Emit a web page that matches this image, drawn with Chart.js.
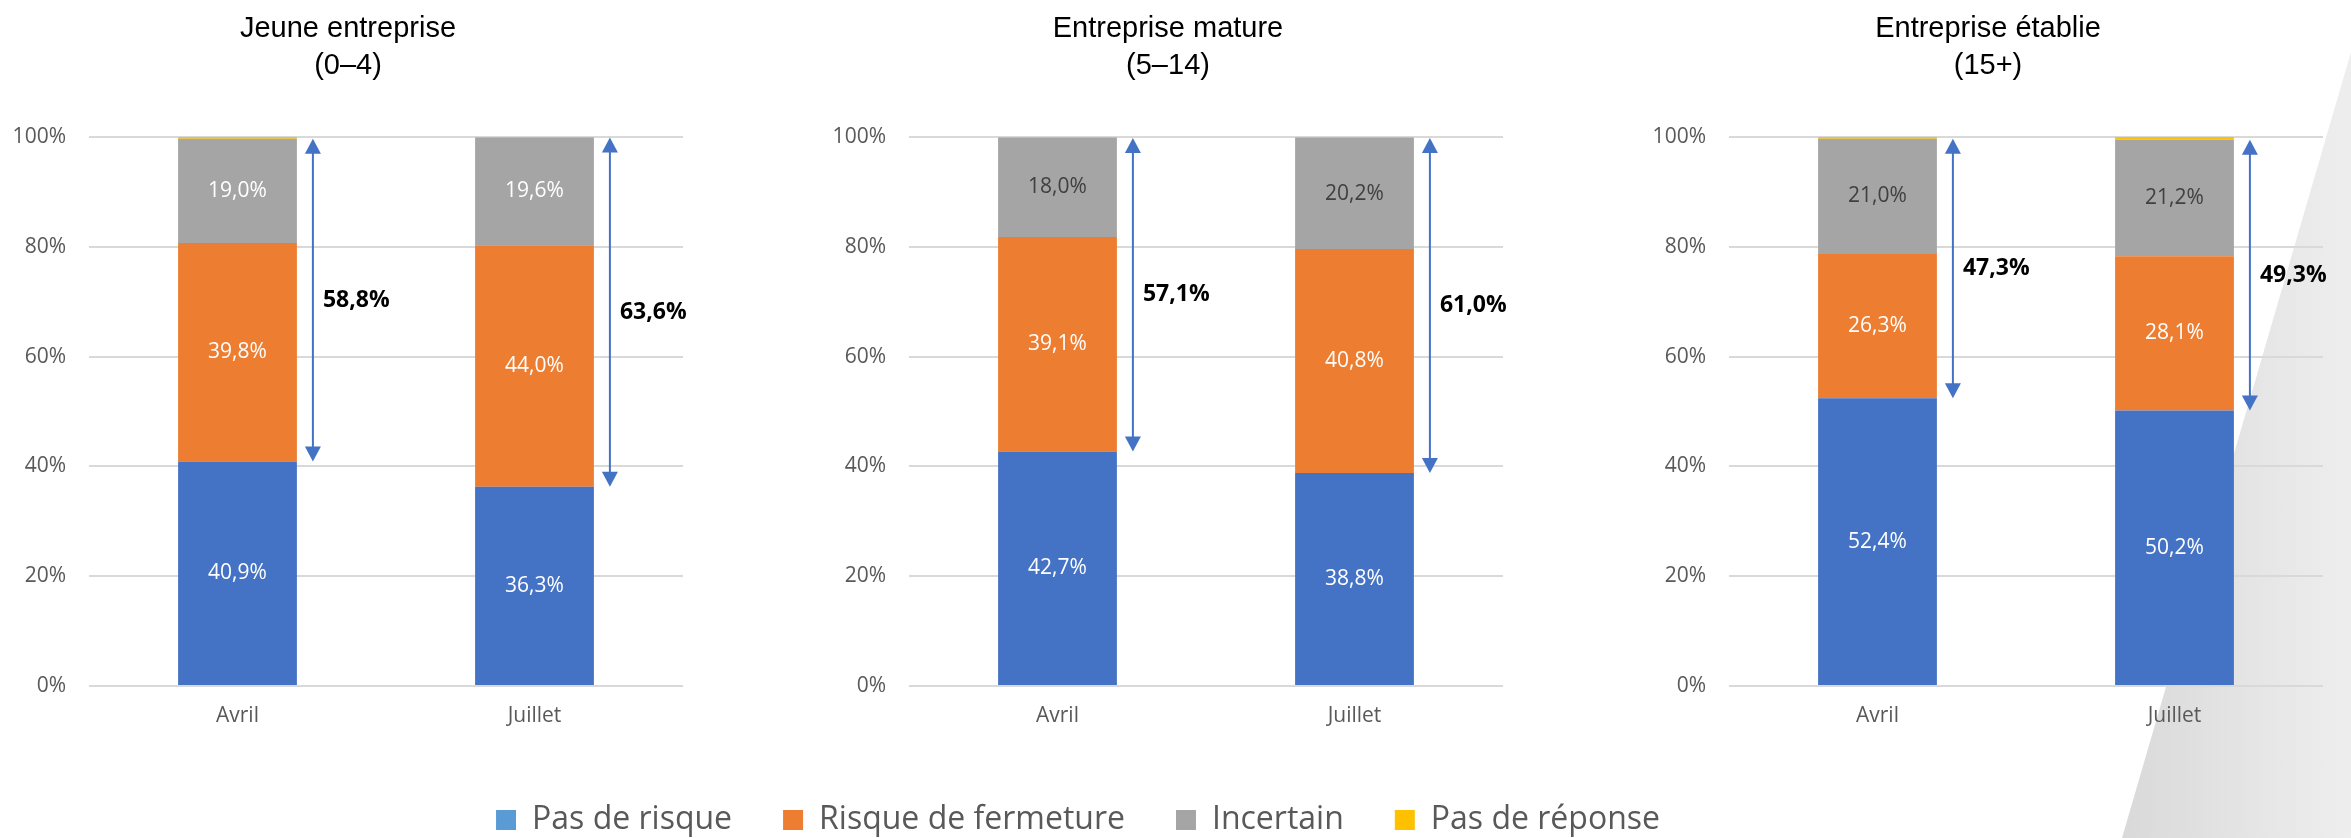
<!DOCTYPE html>
<html lang="fr">
<head>
<meta charset="utf-8">
<title>Risque de fermeture selon l'âge de l'entreprise</title>
<script src="https://cdn.jsdelivr.net/npm/chart.js@4.4.1/dist/chart.umd.min.js"></script>
<style>
    html, body {
        margin: 0;
        padding: 0;
        background: #ffffff;
        overflow: hidden;
    }
    #page {
        position: relative;
        width: 2351px;
        height: 838px;
        overflow: hidden;
    }
    #corner {
        position: absolute;
        left: 0;
        top: 0;
        width: 2351px;
        height: 838px;
        background: linear-gradient(to right, #ffffff 0px, #ffffff 2100px, #d9d9d9 2120px, #eeeeee 2351px);
        clip-path: polygon(2351px 52px, 2351px 838px, 2122px 838px);
    }
    canvas {
        position: absolute;
    }
</style>
</head>
<body>
<div id="page">
    <div id="corner"></div>
    <canvas id="chart0" width="720" height="760" style="left:0px;top:0px"></canvas>
    <canvas id="chart1" width="720" height="760" style="left:820px;top:0px"></canvas>
    <canvas id="chart2" width="720" height="760" style="left:1640px;top:0px"></canvas>
    <canvas id="legendCanvas" width="1400" height="300" style="left:378px;top:753px"></canvas>
</div>
<script>
// categories and panels
const months = ['Avril', 'Juillet'];
const panelTitles = [
    ['Jeune entreprise', '(0–4)'],
    ['Entreprise mature', '(5–14)'],
    ['Entreprise établie', '(15+)']
];
const seriesNames = ['Pas de risque', 'Risque de fermeture', 'Incertain', 'Pas de réponse'];

// values in %, one pair (Avril, Juillet) per panel
const pasDeRisque = [[40.9, 36.3], [42.7, 38.8], [52.4, 50.2]];
const risqueFermeture = [[39.8, 44.0], [39.1, 40.8], [26.3, 28.1]];
const incertain = [[19.0, 19.6], [18.0, 20.2], [21.0, 21.2]];
const pasDeReponse = [[0.3, 0.1], [0.2, 0.2], [0.3, 0.5]];

const yTicks = [0, 20, 40, 60, 80, 100];

const barColors = ['#4472C4', '#ED7D31', '#A5A5A5', '#FFC000'];
const legendColors = ['#5B9BD5', '#ED7D31', '#A5A5A5', '#FFC000'];
const greyLabelColors = ['#ffffff', '#404040', '#404040'];

const textFont = "'Open Sans', 'Noto Sans', sans-serif";

function fmt(v) {
    return v.toFixed(1).replace('.', ',') + '%';
}

// value labels inside the segments
const segmentLabels = {
    id: 'segmentLabels',
    afterDatasetsDraw(chart) {
        const ctx = chart.ctx;
        const panel = chart.options.plugins.segmentLabels.panel;
        ctx.save();
        ctx.font = '21px ' + textFont;
        ctx.textAlign = 'center';
        ctx.textBaseline = 'middle';
        for (let d = 0; d < 3; d++) {
            const meta = chart.getDatasetMeta(d);
            meta.data.forEach((bar, i) => {
                const v = chart.data.datasets[d].data[i];
                ctx.fillStyle = d === 2 ? greyLabelColors[panel] : '#ffffff';
                ctx.fillText(fmt(v), bar.x, (bar.y + bar.base) / 2);
            });
        }
        ctx.restore();
    }
};

// double arrow showing risque + incertain
const riskArrows = {
    id: 'riskArrows',
    afterDatasetsDraw(chart) {
        const ctx = chart.ctx;
        const y = chart.scales.y;
        const ds = chart.data.datasets;
        const headW = 8, headL = 15;
        ctx.save();
        chart.getDatasetMeta(0).data.forEach((bar, i) => {
            const low = ds[0].data[i];
            const high = low + ds[1].data[i] + ds[2].data[i];
            const x = bar.x + bar.width / 2 + 16;
            const yTop = y.getPixelForValue(high);
            const yBot = y.getPixelForValue(low);

            ctx.strokeStyle = '#4472C4';
            ctx.fillStyle = '#4472C4';
            ctx.lineWidth = 2;
            ctx.beginPath();
            ctx.moveTo(x, yTop + headL - 2);
            ctx.lineTo(x, yBot - headL + 2);
            ctx.stroke();

            ctx.beginPath();
            ctx.moveTo(x, yTop);
            ctx.lineTo(x - headW, yTop + headL);
            ctx.lineTo(x + headW, yTop + headL);
            ctx.closePath();
            ctx.fill();

            ctx.beginPath();
            ctx.moveTo(x, yBot);
            ctx.lineTo(x - headW, yBot - headL);
            ctx.lineTo(x + headW, yBot - headL);
            ctx.closePath();
            ctx.fill();

            ctx.fillStyle = '#000000';
            ctx.font = 'bold 23px ' + textFont;
            ctx.textAlign = 'left';
            ctx.textBaseline = 'middle';
            ctx.fillText(fmt(ds[1].data[i] + ds[2].data[i]), x + 10, (yTop + yBot) / 2);
        });
        ctx.restore();
    }
};

function makePanel(p) {
    const values = [pasDeRisque[p], risqueFermeture[p], incertain[p], pasDeReponse[p]];
    const ctx = document.getElementById('chart' + p).getContext('2d');
    return new Chart(ctx, {
        type: 'bar',
        data: {
            labels: months,
            datasets: seriesNames.map((name, s) => ({
                label: name,
                data: values[s],
                backgroundColor: barColors[s],
                borderWidth: 0,
                categoryPercentage: 1,
                barPercentage: 0.4
            }))
        },
        options: {
            responsive: false,
            animation: false,
            devicePixelRatio: 1,
            layout: {
                padding: { left: 13, right: 37, top: 10, bottom: 24 }
            },
            plugins: {
                legend: { display: false },
                tooltip: { enabled: false },
                title: {
                    display: true,
                    text: panelTitles[p],
                    color: '#000000',
                    font: { family: "'Liberation Sans', Arial, sans-serif", size: 29, weight: 'normal', lineHeight: '37px' },
                    padding: { top: 0, bottom: 53 }
                },
                segmentLabels: { panel: p }
            },
            scales: {
                x: {
                    stacked: true,
                    grid: { display: false },
                    border: { display: false },
                    ticks: {
                        color: '#595959',
                        font: { family: textFont, size: 21 },
                        padding: 9
                    },
                    afterFit(scale) { scale.height = 50; }
                },
                y: {
                    stacked: true,
                    min: 0,
                    max: 100,
                    afterBuildTicks(scale) {
                        scale.ticks = yTicks.map(v => ({ value: v }));
                    },
                    grid: { color: '#D9D9D9', lineWidth: 2, drawTicks: false },
                    border: { display: false },
                    ticks: {
                        color: '#595959',
                        font: { family: textFont, size: 21 },
                        padding: 23,
                        callback: v => v + '%'
                    },
                    afterFit(scale) { scale.width = 76; }
                }
            }
        },
        plugins: [segmentLabels, riskArrows]
    });
}

panelTitles.forEach((_, p) => makePanel(p));

// shared legend under the three panels
new Chart(document.getElementById('legendCanvas').getContext('2d'), {
    type: 'bar',
    data: {
        labels: [],
        datasets: seriesNames.map((name, s) => ({
            label: name,
            data: [],
            backgroundColor: legendColors[s],
            borderWidth: 0
        }))
    },
    options: {
        responsive: false,
        animation: false,
        devicePixelRatio: 1,
        layout: { padding: 0 },
        plugins: {
            tooltip: { enabled: false },
            legend: {
                display: true,
                position: 'top',
                labels: {
                    boxWidth: 20,
                    boxHeight: 20,
                    padding: 51,
                    color: '#595959',
                    font: { family: textFont, size: 32 }
                }
            }
        },
        scales: {
            x: { display: false },
            y: { display: false }
        }
    }
});
</script>
</body>
</html>
